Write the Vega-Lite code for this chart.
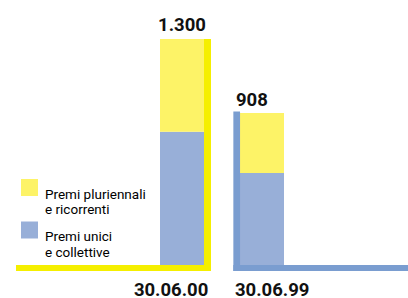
{
  "$schema": "https://vega.github.io/schema/vega-lite/v6.json",
  "width": 408,
  "height": 298,
  "autosize": "none",
  "padding": 0,
  "background": "white",
  "config": {"view": {"stroke": null}, "font": "Roboto, sans-serif"},
  "data": {
    "values": [
      {"date": "30.06.00", "tipo": "Premi unici e collettive", "val": 767, "total": 1300, "label": "1.300"},
      {"date": "30.06.00", "tipo": "Premi pluriennali e ricorrenti", "val": 533, "total": 1300, "label": "1.300"},
      {"date": "30.06.99", "tipo": "Premi unici e collettive", "val": 529, "total": 874, "label": "908"},
      {"date": "30.06.99", "tipo": "Premi pluriennali e ricorrenti", "val": 345, "total": 874, "label": "908"}
    ]
  },
  "encoding": {
    "x": {"field": "date", "type": "nominal", "sort": ["30.06.00", "30.06.99"],
      "scale": {"range": [160, 284], "paddingInner": 0.45, "paddingOuter": 0}, "axis": null}
  },
  "layer": [
    {
      "mark": {"type": "bar"},
      "encoding": {
        "y": {"field": "val", "type": "quantitative", "stack": "zero",
          "scale": {"domain": [0, 1300], "range": [265, 39], "nice": false, "zero": true}, "axis": null},
        "color": {"field": "tipo", "type": "nominal",
          "scale": {"domain": ["Premi pluriennali e ricorrenti", "Premi unici e collettive"], "range": ["#fdf367", "#98afd8"]},
          "legend": {"orient": "none", "legendX": 21, "legendY": 179, "title": null, "symbolType": "square", "symbolSize": 289,
            "symbolStrokeWidth": 0, "symbolOpacity": 1, "labelFont": "Roboto, sans-serif", "labelFontSize": 13.5, "labelColor": "black",
            "labelLimit": 0, "rowPadding": 4.5, "labelOffset": 7, "labelBaseline": "top",
            "labelExpr": "datum.label == 'Premi pluriennali e ricorrenti' ? ['Premi pluriennali', 'e ricorrenti'] : ['Premi unici', 'e collettive']"}},
        "order": {"field": "tipo", "sort": "descending"}
      }
    },
    {
      "transform": [{"filter": "datum.date == '30.06.00' && datum.tipo == 'Premi unici e collettive'"}],
      "layer": [
        {"mark": {"type": "rule", "color": "#f5ef00", "strokeWidth": 7, "xOffset": 25.5, "y2Offset": 6},
          "encoding": {"y": {"field": "total", "type": "quantitative"}, "y2": {"datum": 0}}},
        {"mark": {"type": "rule", "color": "#f5ef00", "strokeWidth": 6, "xOffset": -166, "x2Offset": 29, "yOffset": 3},
          "encoding": {"x2": {"field": "date"}, "y": {"datum": 0, "type": "quantitative"}}},
        {"mark": {"type": "text", "align": "center", "baseline": "alphabetic", "xOffset": 0, "dy": -8.3, "fontSize": 18.5, "fontWeight": "bold", "color": "#111"},
          "encoding": {"y": {"field": "total", "type": "quantitative"}, "text": {"field": "label"}}},
        {"mark": {"type": "text", "align": "right", "baseline": "alphabetic", "xOffset": 26.3, "dy": 30.7, "fontSize": 18.5, "fontWeight": "bold", "color": "#111"},
          "encoding": {"y": {"datum": 0, "type": "quantitative"}, "text": {"field": "date"}}}
      ]
    },
    {
      "transform": [{"filter": "datum.date == '30.06.99' && datum.tipo == 'Premi unici e collettive'"}],
      "layer": [
        {"mark": {"type": "rule", "color": "#7a9dd0", "strokeWidth": 6.7, "xOffset": -25.3, "yOffset": -1.5, "y2Offset": 6},
          "encoding": {"y": {"field": "total", "type": "quantitative"}, "y2": {"datum": 0}}},
        {"mark": {"type": "rule", "color": "#7a9dd0", "strokeWidth": 6, "xOffset": -28.7, "x2Offset": 150, "yOffset": 3},
          "encoding": {"x2": {"field": "date"}, "y": {"datum": 0, "type": "quantitative"}}},
        {"mark": {"type": "text", "align": "left", "baseline": "alphabetic", "xOffset": -26, "dy": -7, "fontSize": 18.5, "fontWeight": "bold", "color": "#111"},
          "encoding": {"y": {"field": "total", "type": "quantitative"}, "text": {"field": "label"}}},
        {"mark": {"type": "text", "align": "left", "baseline": "alphabetic", "xOffset": -27, "dy": 30.7, "fontSize": 18.5, "fontWeight": "bold", "color": "#111"},
          "encoding": {"y": {"datum": 0, "type": "quantitative"}, "text": {"field": "date"}}}
      ]
    }
  ]
}
